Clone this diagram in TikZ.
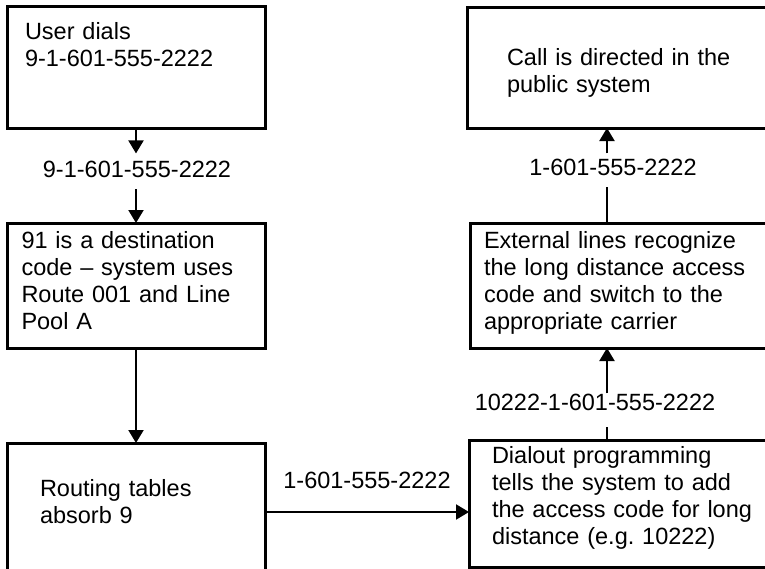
\documentclass[tikz,border=0pt]{standalone}
\usepackage{fontspec}
\setmainfont{Liberation Sans}
\usetikzlibrary{arrows.meta, positioning, calc}

\begin{document}
\begin{tikzpicture}[
    x=1pt, y=-1pt,
    box/.style={rectangle, draw=black, line width=3pt, outer sep=0pt, inner ysep=0pt,
                align=left, anchor=north west, font=\fontsize{23.5}{27}\selectfont},
    lbl/.style={inner sep=0pt, font=\fontsize{23.5}{27}\selectfont},
    arrow/.style={-{Triangle[length=13pt, width=15pt]}, line width=2pt},
    line/.style={line width=2pt}
]
    \useasboundingbox (0,0) rectangle (765,568);

    % Left column
    \node[box, inner xsep=18pt, text width=222pt, text height=33pt, text depth=89pt] (dial) at (7,6) {User dials\\9-1-601-555-2222};
    \node[box, inner xsep=14.5pt, text width=229pt, text height=25pt, text depth=100pt, below=95pt of dial.south west, anchor=north west] (dest) {91 is a destination\\code -- system uses\\Route 001 and Line\\Pool A};
    \node[box, inner xsep=33pt, text width=192pt, text height=53pt, text depth=85pt, below=95pt of dest.south west, anchor=north west] (route) {Routing tables\\absorb 9};

    % Right column
    \node[box, inner xsep=40pt, text width=243pt, text height=58pt, text depth=63pt] (pub) at (467,7) {Call is directed in the\\public system};
    \node[box, inner xsep=14pt, text width=282pt, text height=25pt, text depth=100pt, below=95pt of pub.south west, anchor=north west, xshift=3pt] (ext) {External lines recognize\\the long distance access\\code and switch to the\\appropriate carrier};
    \node[box, inner xsep=23pt, text width=265pt, text height=23pt, text depth=104pt, below=92pt of ext.south west, anchor=north west, xshift=-1pt] (dialout) {Dialout programming\\tells the system to add\\the access code for long\\distance (e.g.\ 10222)};

    % Numbers
    \node[lbl, anchor=base] (num1) at (137,177) {9-1-601-555-2222};
    \node[lbl, anchor=base] (num3) at (595,410) {10222-1-601-555-2222};
    \node[lbl, anchor=base] (num4) at (613,175) {1-601-555-2222};
    \coordinate (rx) at ($(ext.north west)+(137,0)$);

    % Arrows
    \draw[arrow, shorten >=7pt] (dial.south) -- (dial.south |- num1.north);
    \draw[arrow, shorten <=12pt] (dest.north |- num1.south) -- (dest.north);
    \draw[arrow] (dest) -- (route);
    \draw[arrow] (route.east) -- node[lbl, above=22pt] (num2) {1-601-555-2222} (route.east -| dialout.west);
    \draw[line, shorten >=17pt] (rx |- dialout.north) -- (rx |- num3.south);
    \draw[arrow] (rx |- num3.north) -- (rx |- ext.south);
    \draw[line, shorten >=12pt] (rx |- ext.north) -- (rx |- num4.south);
    \draw[arrow, shorten <=5pt] (rx |- num4.north) -- (rx |- pub.south);
\end{tikzpicture}
\end{document}
